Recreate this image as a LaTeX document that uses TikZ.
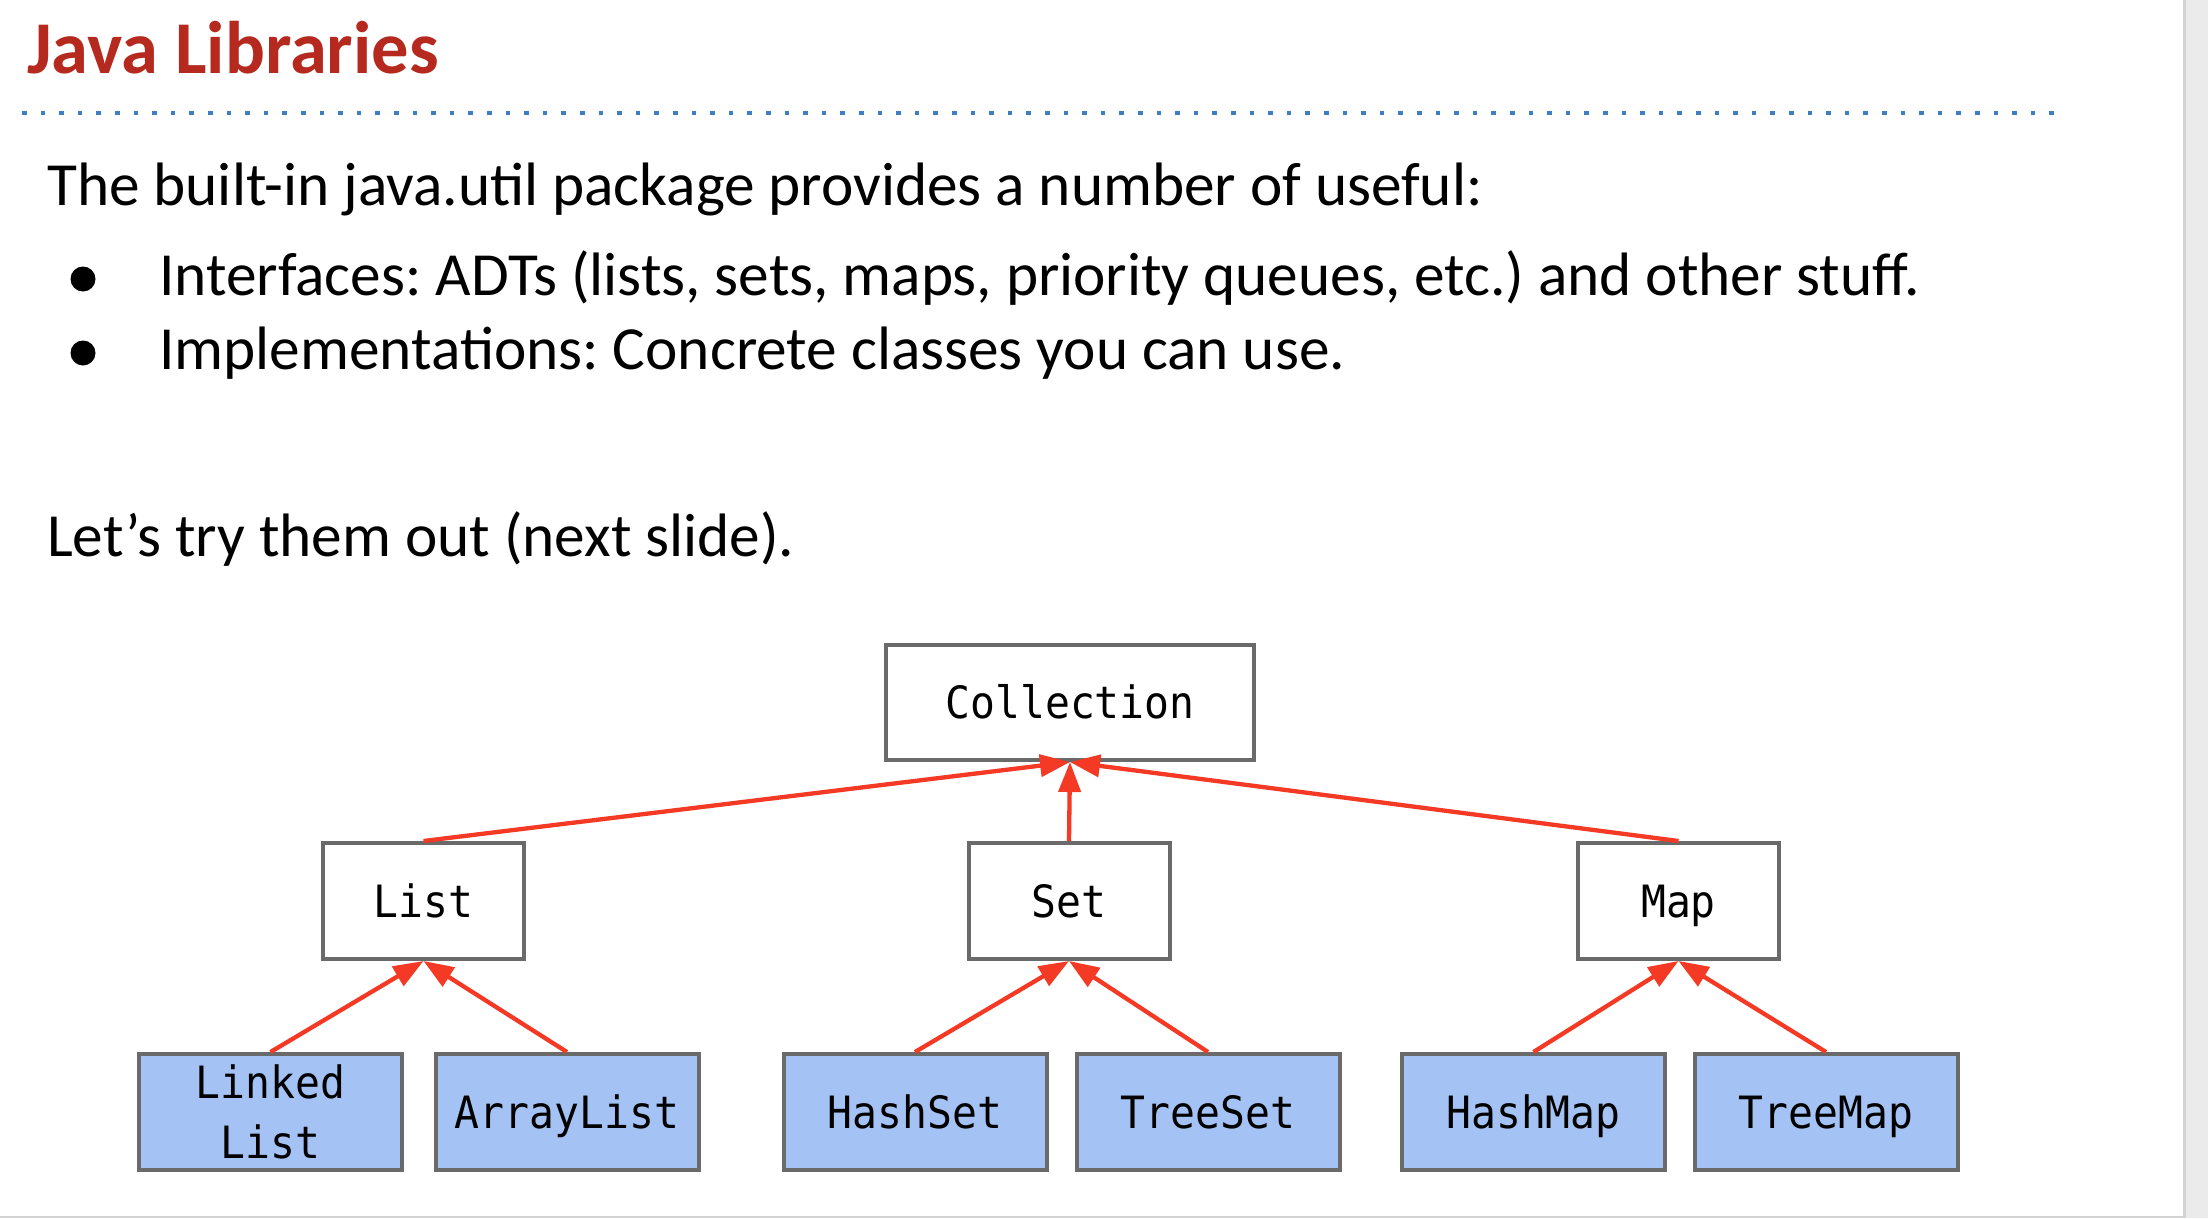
\documentclass[tikz,border=0pt]{standalone}
\usepackage{fontspec}
\setmainfont{Carlito}
\newfontfamily\monof{DejaVu Sans Mono}[FakeStretch=0.93]
\usetikzlibrary{arrows.meta}
\frenchspacing
\definecolor{titlered}{HTML}{B5291F}
\definecolor{dotblue}{HTML}{3D7FC4}
\definecolor{boxgray}{HTML}{6A6A6A}
\definecolor{boxblue}{HTML}{A4C2F4}
\definecolor{arrred}{HTML}{F43A24}
\definecolor{pagegray}{HTML}{EBEBEB}
\definecolor{edgegray}{HTML}{D3D3D3}
\tikzset{
  titletext/.style={anchor=base west, inner sep=0pt, text=titlered,
    font=\fontsize{74.5}{90}\selectfont\bfseries},
  bodytext/.style={anchor=base west, inner sep=0pt,
    font=\fontsize{61.3}{72}\selectfont},
  bulletdot/.style={circle, fill=black, inner sep=0pt, minimum size=25pt},
  umlbox/.style={draw=boxgray, line width=4pt, rectangle, inner sep=0pt,
    font=\monof\fontsize{44.5}{60}\selectfont, align=center},
  oneline/.style={text height=32pt, text depth=0pt},
  ifacebox/.style={umlbox, fill=white, minimum height=116pt},
  implbox/.style={umlbox, fill=boxblue, minimum width=263pt, minimum height=116pt},
  inherit/.style={draw=arrred, line width=4.3pt,
    -{Triangle[length=30pt, width=22pt]}},
}
\begin{document}
\begin{tikzpicture}[x=1pt, y=-1pt]
  % page background
  \fill[white] (0,0) rectangle (2208,1218);
  \fill[pagegray] (2183,0) rectangle (2208,1218);
  \fill[edgegray] (2183,0) rectangle (2186,1218);
  \fill[edgegray] (0,1216) rectangle (2183,1218);
  \useasboundingbox (0,0) rectangle (2208,1218);

  % title and rule
  \node[titletext] (title) at (27,73) {Java Libraries};
  \coordinate (ruleL) at (22,113);
  \coordinate (ruleR) at (2066,113);
  \draw[dotblue, line width=4.5pt, dash pattern=on 4.5pt off 14.1pt] (ruleL) -- (ruleR);

  % body text
  \node[bodytext] (intro) at (47,205) {The built-in java.util package provides a number of useful:};
  \node[bulletdot] (b1) at (83,279) {};
  \node[bodytext] (item1) at (159,295) {Interfaces: ADTs (lists, sets, maps, priority queues, etc.) and other stuff.};
  \node[bulletdot] (b2) at (83,353) {};
  \node[bodytext] (item2) at (159,369) {Implementations: Concrete classes you can use.};
  \node[bodytext] (tryit) at (47,556) {Let’s try them out (next slide).};

  % diagram
  \node[ifacebox, oneline, minimum width=368pt, minimum height=115pt] (coll) at (1070,702.5) {Collection};
  \node[ifacebox, oneline, minimum width=201pt] (list) at (423.5,901) {List};
  \node[ifacebox, oneline, minimum width=201pt] (set) at (1069,901) {Set};
  \node[ifacebox, oneline, minimum width=201pt] (map) at (1678.5,901) {Map};

  \node[implbox] (ll) at (270.5,1112) {Linked\\List};
  \node[implbox, oneline] (al) at (567,1112) {ArrayList};
  \node[implbox, oneline] (hs) at (915,1112) {HashSet};
  \node[implbox, oneline] (ts) at (1208,1112) {TreeSet};
  \node[implbox, oneline] (hm) at (1533.5,1112) {HashMap};
  \node[implbox, oneline] (tm) at (1826,1112) {TreeMap};

  \draw[inherit] (list.north) -- (coll.south);
  \draw[inherit] (map.north) -- (coll.south);
  \draw[inherit] (set.north) -- (coll.south);

  \draw[inherit] (ll.north) -- (list.south);
  \draw[inherit] (al.north) -- (list.south);
  \draw[inherit] (hs.north) -- (set.south);
  \draw[inherit] (ts.north) -- (set.south);
  \draw[inherit] (hm.north) -- (map.south);
  \draw[inherit] (tm.north) -- (map.south);
\end{tikzpicture}
\end{document}
